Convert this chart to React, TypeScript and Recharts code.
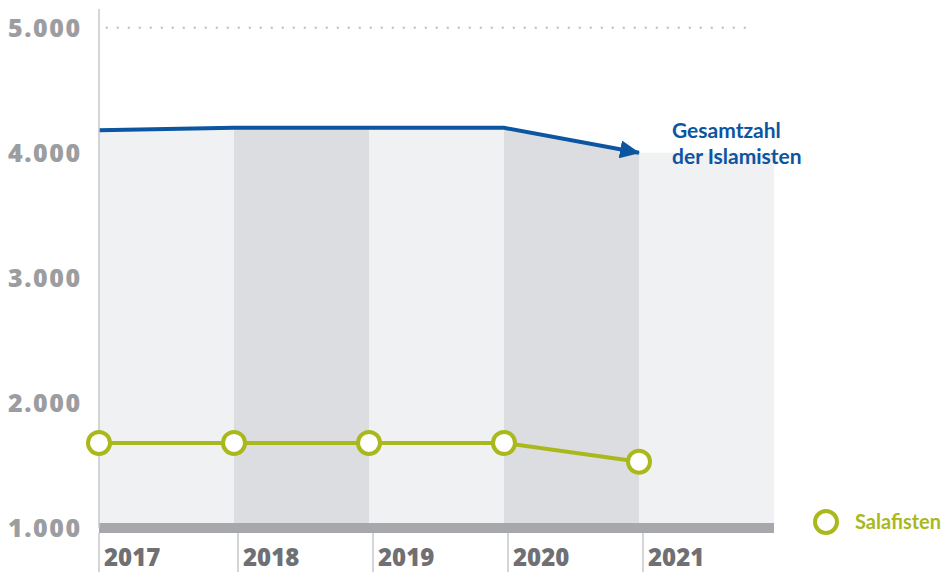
import React from 'react';
import { ComposedChart, Area, Line, XAxis, YAxis, ReferenceLine, Legend } from 'recharts';

const years = ['2017', '2018', '2019', '2020', '2021'];
const islamisten = [4180, 4200, 4200, 4200, 4000];
const salafisten = [1680, 1680, 1680, 1680, 1530];
const yTicks = [1000, 2000, 3000, 4000, 5000];

const BLUE = '#0b55a1';
const GREEN = '#a9b81b';
const LIGHT_BG = '#f0f1f3';
const DARK_BG = '#dcdde0';
const AXIS_GREY = '#c6c7c9';
const FONT = 'Lato, "Open Sans", sans-serif';
const AXIS_FONT = '"Open Sans", Lato, sans-serif';

// one row per column edge; the extra last row closes the 2021 column
const chartData = [...years, ''].map((_, i) => {
  const last = Math.min(i, years.length - 1);
  return {
    x: i,
    bg: islamisten[last],
    band2018: i === 1 || i === 2 ? islamisten[i] : null,
    band2020: i === 3 || i === 4 ? islamisten[i] : null,
    islamisten: i < years.length ? islamisten[i] : null,
    salafisten: i < years.length ? salafisten[i] : null,
  };
});

const formatThousands = (v: number) => String(v).replace(/\B(?=(\d{3})+(?!\d))/g, '.');

function YTick({ y, payload }: any) {
  return (
    <text x={0} y={y + 9} fill="#9c9da0" fontSize={25} fontWeight={800} fontFamily={AXIS_FONT} letterSpacing={1.6}>
      {formatThousands(payload.value)}
    </text>
  );
}

function XTick({ x, y, payload }: any) {
  const lineX = payload.value === 0 ? x : x + 4;
  return (
    <g>
      <line x1={lineX} x2={lineX} y1={y + 5} y2={y + 50} stroke={AXIS_GREY} strokeWidth={1.5} />
      <text x={lineX + 5} y={y + 38} fill="#6f7073" fontSize={24} fontWeight={800} fontFamily={AXIS_FONT}>
        {years[payload.value]}
      </text>
    </g>
  );
}

function BlueLabel({ x, y, index }: any) {
  if (index !== years.length - 1) return null;
  return (
    <text x={x + 33} y={y - 15} fill={BLUE} fontSize={21} fontWeight={700} fontFamily={FONT}>
      <tspan x={x + 33}>Gesamtzahl</tspan>
      <tspan x={x + 33} dy={26}>der Islamisten</tspan>
    </text>
  );
}

function SalafistenLegend() {
  return (
    <svg width={134} height={30} style={{ overflow: 'visible' }}>
      <circle cx={13} cy={15} r={11} fill="#fff" stroke={GREEN} strokeWidth={4} />
      <text x={42} y={22} fill={GREEN} fontSize={20} fontWeight={700} fontFamily={FONT}>
        Salafisten
      </text>
    </svg>
  );
}

export default function App() {
  return (
    <div>
      <svg width={0} height={0} style={{ position: 'absolute' }}>
        <defs>
          <marker id="blueArrow" markerUnits="userSpaceOnUse" markerWidth={20} markerHeight={18} refX={19} refY={9} orient="auto">
            <path d="M0,0 L20,9 L0,18 Z" fill={BLUE} />
          </marker>
        </defs>
      </svg>
      <ComposedChart width={942} height={564} data={chartData} margin={{ top: 1, right: 176, bottom: 0, left: 0 }}>
        <XAxis
          dataKey="x"
          type="number"
          domain={[0, 5]}
          ticks={[0, 1, 2, 3, 4]}
          height={44}
          tickSize={0}
          tickMargin={0}
          axisLine={{ stroke: '#a7a8ab', strokeWidth: 10 }}
          tick={<XTick />}
        />
        <YAxis
          type="number"
          domain={[1000, 5150]}
          ticks={yTicks}
          width={91}
          allowDataOverflow
          tickLine={false}
          axisLine={{ stroke: AXIS_GREY, strokeWidth: 1.5 }}
          tick={<YTick />}
        />
        <Area dataKey="bg" type="linear" stroke="none" fill={LIGHT_BG} fillOpacity={1} isAnimationActive={false} />
        <Area dataKey="band2018" type="linear" stroke="none" fill={DARK_BG} fillOpacity={1} isAnimationActive={false} />
        <Area dataKey="band2020" type="linear" stroke="none" fill={DARK_BG} fillOpacity={1} isAnimationActive={false} />
        <ReferenceLine
          segment={[{ x: 0.05, y: 5000 }, { x: 4.8, y: 5000 }]}
          stroke="#b9babc"
          strokeWidth={2}
          strokeDasharray="2 9"
        />
        <Line
          dataKey="islamisten"
          type="linear"
          stroke={BLUE}
          strokeWidth={4}
          dot={false}
          markerEnd="url(#blueArrow)"
          label={<BlueLabel />}
          isAnimationActive={false}
        />
        <Line
          dataKey="salafisten"
          type="linear"
          stroke={GREEN}
          strokeWidth={4}
          dot={{ r: 11, fill: '#fff', stroke: GREEN, strokeWidth: 4 }}
          isAnimationActive={false}
        />
        <Legend
          layout="horizontal"
          verticalAlign="middle"
          align="center"
          content={<SalafistenLegend />}
          wrapperStyle={{ left: 805, top: 499, width: 134 }}
        />
      </ComposedChart>
    </div>
  );
}
